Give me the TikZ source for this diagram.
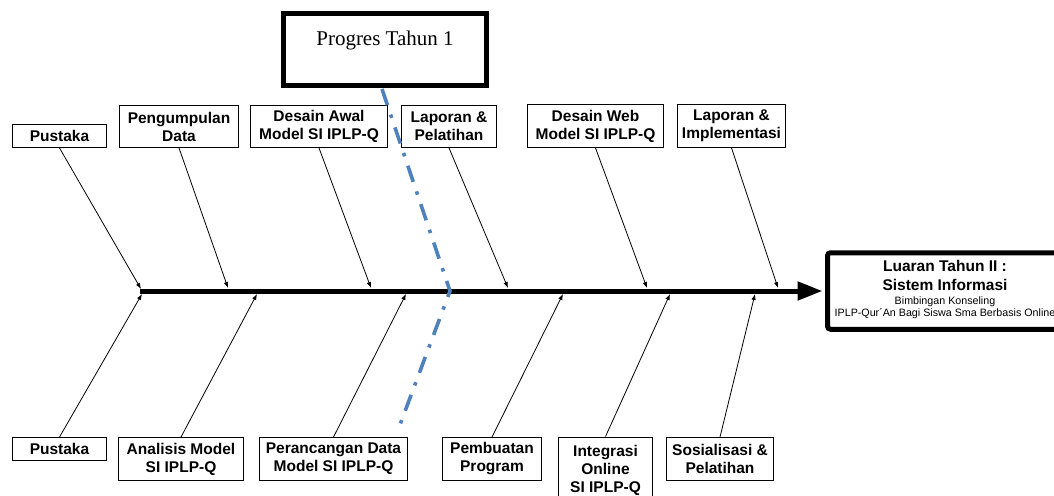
\documentclass[tikz,border=0pt]{standalone}
\usepackage{fontspec}
\setmainfont{Liberation Sans}
\newfontfamily\seriffont{Liberation Serif}
\usetikzlibrary{arrows.meta}
\definecolor{dashblue}{RGB}{79,129,189}
\begin{document}
\begin{tikzpicture}[x=1pt,y=-1pt,
  lbox/.style={draw=black, line width=0.9pt, inner sep=1pt, align=center,
    font=\bfseries\fontsize{15.5}{18}\selectfont},
  branch/.style={line width=0.8pt, -{Latex[length=6pt,width=4.5pt]}},
  spine/.style={line width=5pt, -{Triangle[length=25pt,width=18pt]}, shorten >=2.5pt},
  thickbox/.style={draw=black, line width=5pt, inner sep=0pt},
  bluedash/.style={draw=dashblue, line width=3.6pt, dash pattern=on 17pt off 10pt on 3.5pt off 10pt},
  bigtxt/.style={anchor=base, font=\bfseries\fontsize{15.5}{18}\selectfont},
  smalltxt/.style={anchor=base, font=\fontsize{10.7}{12.7}\selectfont}
]
\useasboundingbox (0,0) rectangle (1054,495);

% top boxes
\node[lbox, minimum width=94pt, minimum height=23pt] (tp1) at (59.5,136) {Pustaka};
\node[lbox, minimum width=119pt, minimum height=42pt] (tp2) at (179,126.5) {Pengumpulan\\Data};
\node[lbox, minimum width=137pt, minimum height=42pt] (tp3) at (319,126.5) {Desain Awal\\Model SI IPLP-Q};
\node[lbox, minimum width=95pt, minimum height=42pt] (tp4) at (449,126.5) {Laporan \&\\Pelatihan};
\node[lbox, minimum width=136pt, minimum height=43pt] (tp5) at (595.5,126) {Desain Web\\Model SI IPLP-Q};
\node[lbox, minimum width=108pt, minimum height=43pt] (tp6) at (731.5,126) {Laporan \&\\Implementasi};

% bottom boxes
\node[lbox, minimum width=94pt, minimum height=23pt] (bp1) at (59.5,449) {Pustaka};
\node[lbox, minimum width=125pt, minimum height=43pt] (bp2) at (181,459) {Analisis Model\\SI IPLP-Q};
\node[lbox, minimum width=148pt, minimum height=43pt] (bp3) at (333.5,459) {Perancangan Data\\Model SI IPLP-Q};
\node[lbox, minimum width=99pt, minimum height=43pt] (bp4) at (492,459) {Pembuatan\\Program};
\node[lbox, minimum width=94pt, minimum height=66pt] (bp5) at (605.5,470) {Integrasi\\Online\\SI IPLP-Q};
\node[lbox, minimum width=107pt, minimum height=43pt] (bp6) at (720,459) {Sosialisasi \&\\Pelatihan};

% result box
\node[thickbox, rounded corners=3pt, minimum width=245pt, minimum height=76.5pt] (lu) at (950,291) {};
\node[bigtxt] (lu1) at (945,271.7) {Luaran Tahun II :};
\node[bigtxt] (lu2) at (945,290) {Sistem Informasi};
\node[smalltxt] (lu3) at (945,304) {Bimbingan Konseling};
\node[smalltxt] (lu4) at (945,316.7) {IPLP-Qur´An Bagi Siswa Sma Berbasis Online};

% spine
\coordinate (s0) at (140,291);
\draw[spine] (s0) -- (lu.west);

% spine points
\coordinate (a1) at (141,289);
\coordinate (a2) at (228,288);
\coordinate (a3) at (371,288);
\coordinate (a4) at (508,288);
\coordinate (a5) at (647,288);
\coordinate (a6) at (778,288);
\coordinate (b1) at (142,294);
\coordinate (b2) at (257,294);
\coordinate (b3) at (406,294);
\coordinate (b4) at (563,294);
\coordinate (b5) at (670,294);
\coordinate (b6) at (755,294);

\draw[branch] (tp1.south) -- (a1);
\draw[branch] (tp2.south) -- (a2);
\draw[branch] (tp3.south) -- (a3);
\draw[branch] (tp4.south) -- (a4);
\draw[branch] (tp5.south) -- (a5);
\draw[branch] (tp6.south) -- (a6);
\draw[branch] (bp1.north) -- (b1);
\draw[branch] (bp2.north) -- (b2);
\draw[branch] (bp3.north) -- (b3);
\draw[branch] (bp4.north) -- (b4);
\draw[branch] (bp5.north) -- (b5);
\draw[branch] (bp6.north) -- (b6);

% progress marker
\coordinate (d0) at (382,89);
\coordinate (d1) at (450,291);
\coordinate (d2) at (398,430);
\draw[bluedash] (d0) -- (d1) -- (d2);

\node[thickbox, minimum width=203pt, minimum height=72pt] (pg) at (385,49.5) {};
\node[anchor=base, font=\seriffont\fontsize{21}{24}\selectfont] (pgt) at (385,46) {Progres Tahun 1};
\end{tikzpicture}
\end{document}
